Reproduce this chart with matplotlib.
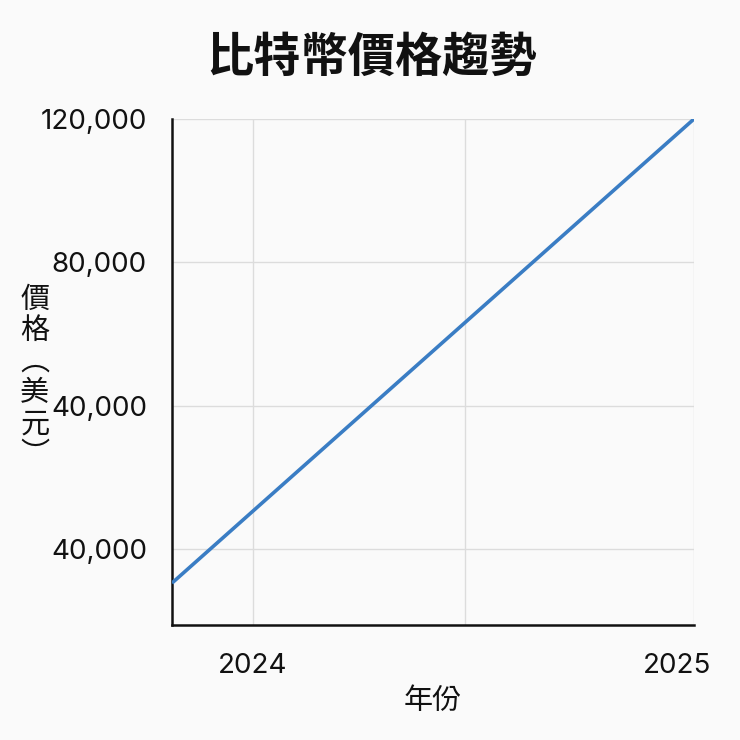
import matplotlib as mpl
mpl.use("Agg")
import matplotlib.pyplot as plt

plt.rcParams['font.family'] = ['Inter', 'Noto Sans CJK TC', 'DejaVu Sans']

# data (years as decimals, price in axis units)
years = [2023.816, 2025.0]
prices = [-9500, 120000]

x_ticks = [2024, 2025]
x_tick_labels = ["2024", "2025"]
x_grid_extra = [2024.48]
y_ticks = [0, 40000, 80000, 120000]
y_tick_labels = ["40,000", "40,000", "80,000", "120,000"]

title = "比特幣價格趨勢"
xlabel = "年份"
ylabel = "價\n格\n︵\n美\n元\n︶"

cjk = ['Noto Sans CJK TC', 'DejaVu Sans']
bg = "#fafafa"
fig = plt.figure(figsize=(7.4, 7.4), dpi=100, facecolor=bg)
ax = fig.add_axes([0.2324, 0.1554, 0.7054, 0.6838], facecolor=bg)

ax.plot(years, prices, color="#3a7dc4", lw=2.6, solid_capstyle="butt", zorder=3)

ax.set_xlim(2023.816, 2025.0)
ax.set_ylim(-21200, 120000)

ax.set_xticks(x_ticks)
ax.set_xticklabels(x_tick_labels)
ax.set_xticks(x_grid_extra, minor=True)
ax.set_yticks(y_ticks)
ax.set_yticklabels(y_tick_labels)
ax.tick_params(axis="both", which="both", length=0, labelsize=20, colors="#111111")
ax.tick_params(axis="x", pad=20)
ax.tick_params(axis="y", pad=18)
# the 2025 label sits left of its gridline
lbl = ax.xaxis.get_majorticklabels()[1]
lbl.set_transform(lbl.get_transform()
                  + mpl.transforms.ScaledTranslation(-0.17, 0, fig.dpi_scale_trans))

ax.grid(True, which="both", color="#dcdcdc", lw=1.0, zorder=0)

for s in ["top", "right"]:
    ax.spines[s].set_visible(False)
for s in ["left", "bottom"]:
    ax.spines[s].set_linewidth(1.8)
    ax.spines[s].set_color("#111111")

fig.text(0.502, 0.922, title, ha="center", va="center", fontsize=34,
         fontweight="bold", color="#111111", family=cjk)
fig.text(0.585, 0.053, xlabel, ha="center", va="center", fontsize=21,
         color="#111111", family=cjk)
fig.text(0.047, 0.49, ylabel, ha="center", va="center", fontsize=21,
         color="#111111", linespacing=1.05, family=cjk)

fig.savefig("out.png", dpi=100, facecolor=bg)
